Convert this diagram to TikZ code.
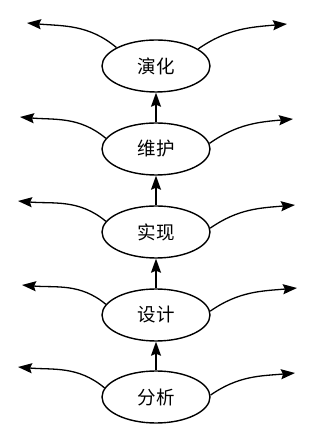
\documentclass[tikz,border=0pt]{standalone}
\usepackage{fontspec}
\setmainfont{Noto Sans CJK SC}
\usetikzlibrary{shapes.geometric,arrows.meta}
\tikzset{
  stage/.style={draw, ellipse, line width=1.4pt, minimum width=108pt, minimum height=52pt, inner sep=0pt, font=\fontsize{18.5}{20}\selectfont},
  flow/.style={line width=1.3pt, -{Stealth[length=14pt,width=10pt,inset=2pt]}}
}
\begin{document}
\begin{tikzpicture}[x=1pt,y=1pt]
    \useasboundingbox (0,0) rectangle (317,435);

    % The five stages, bottom to top
    \node[stage] (fenxi) at (156,38) {分析};
    \node[stage] (sheji) at (156,120) {设计};
    \node[stage] (shixian) at (156,203) {实现};
    \node[stage] (weihu) at (156,286) {维护};
    \node[stage] (yanhua) at (156,369) {演化};

    % Upward arrows between the stages
    \draw[flow] (fenxi.north) -- (sheji.south);
    \draw[flow] (sheji.north) -- (shixian.south);
    \draw[flow] (shixian.north) -- (weihu.south);
    \draw[flow] (weihu.north) -- (yanhua.south);

    % Free ends of the side arrows
    \coordinate (fenxiL) at (18,68);
    \coordinate (fenxiR) at (295,62);
    \coordinate (shejiL) at (22,150);
    \coordinate (shejiR) at (297,147);
    \coordinate (shixianL) at (18,234);
    \coordinate (shixianR) at (295,230);
    \coordinate (weihuL) at (20,318);
    \coordinate (weihuR) at (293,316);
    \coordinate (yanhuaL) at (27,412);
    \coordinate (yanhuaR) at (287,411);

    % Side arrows going out of each stage
    \draw[flow] (fenxi.170) to[out=140,in=-5] (fenxiL);
    \draw[flow] (fenxi.2) to[out=35,in=185] (fenxiR);
    \draw[flow] (sheji.168) to[out=140,in=-5] (shejiL);
    \draw[flow] (sheji.4) to[out=35,in=185] (shejiR);
    \draw[flow] (shixian.168) to[out=140,in=-5] (shixianL);
    \draw[flow] (shixian.4) to[out=35,in=185] (shixianR);
    \draw[flow] (weihu.168) to[out=140,in=-5] (weihuL);
    \draw[flow] (weihu.6) to[out=35,in=185] (weihuR);
    \draw[flow] (yanhua.155) to[out=140,in=-5] (yanhuaL);
    \draw[flow] (yanhua.22) to[out=35,in=185] (yanhuaR);
\end{tikzpicture}
\end{document}
